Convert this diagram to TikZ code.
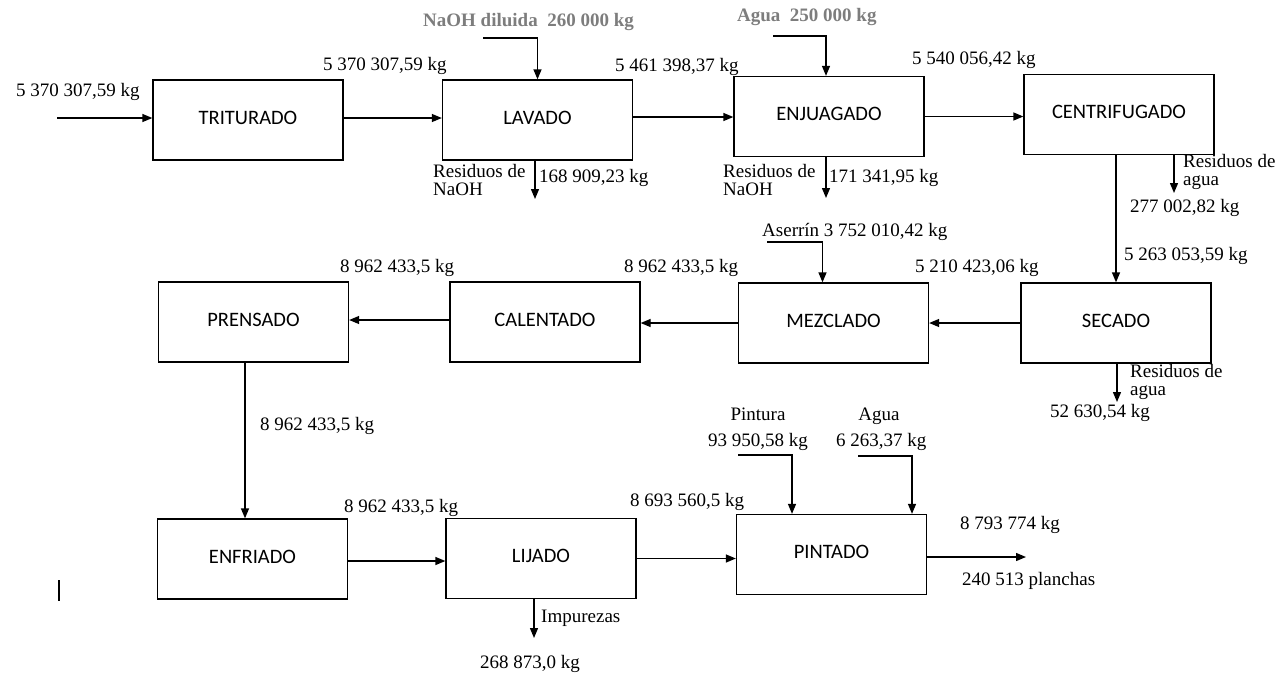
\documentclass[tikz,border=0pt]{standalone}
\usepackage{fontspec}
\setmainfont{Liberation Serif}
\newfontfamily\boxfont{Carlito}
\usetikzlibrary{arrows.meta}
\definecolor{feedgray}{RGB}{125,125,125}
\tikzset{
  proc/.style={draw, line width=1.3pt, minimum width=190pt, minimum height=80pt, inner sep=0pt,
    font=\boxfont\fontsize{20.5}{21}\selectfont, text height=14pt, text depth=6pt},
  lab/.style={font=\fontsize{19}{19}\selectfont, inner sep=0pt, anchor=base west},
  labc/.style={font=\fontsize{19}{19}\selectfont, inner sep=0pt, anchor=base},
  feed/.style={font=\bfseries\fontsize{19}{19}\selectfont, text=feedgray, inner sep=0pt, anchor=base west},
  arr/.style={line width=1.3pt, -{Triangle[length=10pt,width=8pt]}},
  ln/.style={line width=1.3pt}
}
\begin{document}
\begin{tikzpicture}[x=1pt,y=-1pt]
\useasboundingbox (0,0) rectangle (1280,673);
% process boxes
\node[proc] (tri) at (248,120) {TRITURADO};
\node[proc] (lav) at (537.5,120) {LAVADO};
\node[proc] (enj) at (829,116.5) {ENJUAGADO};
\node[proc] (cen) at (1119,114.5) {CENTRIFUGADO};
\node[proc] (pre) at (253.5,322) {PRENSADO};
\node[proc] (cal) at (545,322) {CALENTADO};
\node[proc] (mez) at (833.5,323) {MEZCLADO};
\node[proc] (sec) at (1116,323) {SECADO};
\node[proc] (enf) at (252.5,559) {ENFRIADO};
\node[proc] (lij) at (541,558.5) {LIJADO};
\node[proc] (pin) at (831.5,554.5) {PINTADO};
% free ends
\coordinate (in) at (57,118);
\coordinate (naoh) at (483,38);
\coordinate (agua1) at (773,36);
\coordinate (w1) at (535,199);
\coordinate (w2) at (826,198);
\coordinate (w3) at (1174,193);
\coordinate (aser) at (767,242);
\coordinate (w4) at (1117,402);
\coordinate (w5) at (534,638);
\coordinate (pint) at (738,455);
\coordinate (agua2) at (858,456);
\coordinate (out) at (1026,557);
% row 1
\draw[arr] (in) -- (in -| tri.west);
\draw[arr] ([yshift=2pt]tri.east) -- ([yshift=2pt]tri.east -| lav.west);
\draw[arr] ([yshift=3pt]lav.east) -- ([yshift=3pt]lav.east -| enj.west);
\draw[arr] (enj.east) -- (enj.east -| cen.west);
\draw[arr] (naoh) -| (lav.north);
\draw[arr] (agua1) -| ([xshift=-3pt]enj.north);
\draw[arr] (lav.south -| w1) -- (w1);
\draw[arr] (enj.south -| w2) -- (w2);
\draw[arr] (cen.south -| w3) -- (w3);
\draw[arr] (cen.south -| sec.north) -- (sec.north);
% row 2
\draw[arr] (sec.west) -- (sec.west -| mez.east);
\draw[arr] (aser) -| ([xshift=-11pt]mez.north);
\draw[arr] (sec.south -| w4) -- (w4);
\draw[arr] (mez.west) -- (mez.west -| cal.east);
\draw[arr] ([yshift=2pt]cal.west) -- ([yshift=2pt]cal.west -| pre.east);
\draw[arr] ([xshift=-8.5pt]pre.south) -- ([xshift=-8.5pt]pre.south |- enf.north);
% row 3
\draw[arr] ([yshift=-2pt]enf.east) -- ([yshift=-2pt]enf.east -| lij.west);
\draw[arr] (lij.east) -- (lij.east -| pin.west);
\draw[arr] (lij.south -| w5) -- (w5);
\draw[arr] (pint) -| ([xshift=-39.5pt]pin.north);
\draw[arr] (agua2) -| ([xshift=80.5pt]pin.north);
\draw[arr] (pin.east |- out) -- (out);
% stray bar
\draw[ln] (59,580) -- (59,601);
% labels
\node[lab] (l1) at (16,96) {5 370 307,59 kg};
\node[lab] (l2) at (323,70) {5 370 307,59 kg};
\node[feed] (l3) at (423,26) {NaOH diluida~~260 000 kg};
\node[lab] (l4) at (615,71) {5 461 398,37 kg};
\node[lab] (l5) at (433,177) {Residuos de};
\node[lab] (l6) at (433,195) {NaOH};
\node[lab] (l7) at (539,182) {168 909,23 kg};
\node[feed] (l8) at (737,21) {Agua~~250 000 kg};
\node[lab] (l9) at (723,177) {Residuos de};
\node[lab] (l10) at (723,195) {NaOH};
\node[lab] (l11) at (829,182) {171 341,95 kg};
\node[lab] (l12) at (912,64) {5 540 056,42 kg};
\node[lab] (l13) at (1183,167) {Residuos de};
\node[lab] (l14) at (1183,185) {agua};
\node[lab] (l15) at (1130,212) {277 002,82 kg};
\node[lab] (l16) at (1124,260) {5 263 053,59 kg};
\node[lab] (l17) at (915,272) {5 210 423,06 kg};
\node[lab] (l18) at (762,236) {Aserrín 3 752 010,42 kg};
\node[lab] (l19) at (624,272) {8 962 433,5 kg};
\node[lab] (l20) at (340,272) {8 962 433,5 kg};
\node[lab] (l21) at (1130,377) {Residuos de};
\node[lab] (l22) at (1130,395) {agua};
\node[lab] (l23) at (1050,417) {52 630,54 kg};
\node[lab] (l24) at (260,430) {8 962 433,5 kg};
\node[lab] (l25) at (344,512) {8 962 433,5 kg};
\node[lab] (l26) at (630,506) {8 693 560,5 kg};
\node[lab] (l27) at (541,622) {Impurezas};
\node[lab] (l28) at (480,668) {268 873,0 kg};
\node[labc] (l29) at (758,420) {Pintura};
\node[lab] (l30) at (708,446) {93 950,58 kg};
\node[labc] (l31) at (879,420) {Agua};
\node[lab] (l32) at (836,446) {6 263,37 kg};
\node[lab] (l33) at (960,529) {8 793 774 kg};
\node[lab] (l34) at (962,585) {240 513 planchas};
\end{tikzpicture}
\end{document}
